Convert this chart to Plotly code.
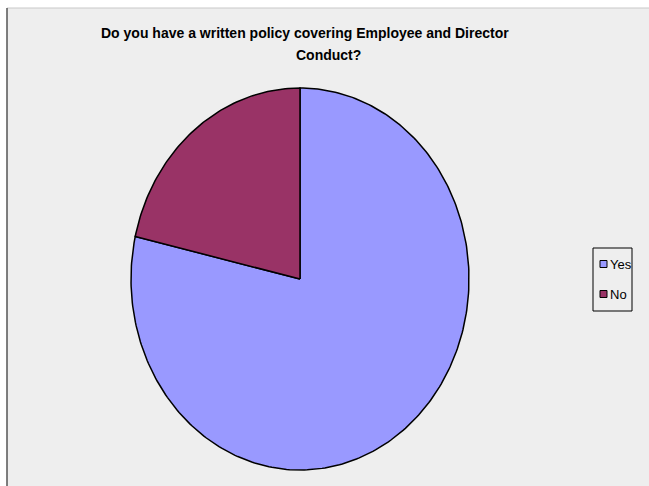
import math
import plotly.graph_objects as go

# ---- data ----
categories = ["Yes", "No"]
values = [11, 3]
colors = ["#9999FF", "#993366"]
title_lines = ["Do you have a written policy covering Employee and Director", "Conduct?"]

W, H = 649, 486
cx, cy, rx, ry = 300, 279, 169, 191

fig = go.Figure()

total = float(sum(values))
start = 0.0
for cat, val, col in zip(categories, values, colors):
    frac = val / total
    a0, a1 = start * 360, (start + frac) * 360
    n = max(2, int(abs(a1 - a0) / 1.0))
    xs, ys = [cx], [cy]
    for i in range(n + 1):
        a = math.radians(a0 + (a1 - a0) * i / n)
        xs.append(cx + rx * math.sin(a))
        ys.append(cy - ry * math.cos(a))
    xs.append(cx)
    ys.append(cy)
    fig.add_trace(go.Scatter(x=xs, y=ys, mode="lines", fill="toself", fillcolor=col,
                             line=dict(color="black", width=1.5), name=cat,
                             showlegend=False, hoverinfo="name"))
    start += frac

shapes = [
    dict(type="rect", xref="x", yref="y", x0=7, x1=W + 2, y0=8, y1=H + 2,
         fillcolor="#EEEEEE", line=dict(width=0), layer="below"),
    dict(type="line", xref="x", yref="y", x0=7, x1=W, y0=8, y1=8,
         line=dict(color="#C8C8C8", width=1), layer="below"),
    dict(type="line", xref="x", yref="y", x0=7, x1=7, y0=8, y1=H,
         line=dict(color="#555555", width=1.5), layer="below"),
    # legend box
    dict(type="rect", xref="x", yref="y", x0=593, x1=632, y0=248, y1=311,
         fillcolor="#EEEEEE", line=dict(color="#000000", width=1)),
]
annotations = []
leg_y = [264, 294]
for cat, col, ly in zip(categories, colors, leg_y):
    shapes.append(dict(type="rect", xref="x", yref="y", x0=600, x1=607, y0=ly - 3.5, y1=ly + 3.5,
                       fillcolor=col, line=dict(color="black", width=1)))
    annotations.append(dict(x=608, y=ly, xref="x", yref="y", text=cat, showarrow=False,
                            xanchor="left", yanchor="middle",
                            font=dict(family="Liberation Sans, Arial", size=13, color="black")))

annotations.append(dict(x=305, y=33, xref="x", yref="y", text="<b>" + title_lines[0] + "</b>",
                        showarrow=False, xanchor="center", yanchor="middle",
                        font=dict(family="Liberation Sans, Arial", size=14, color="black")))
annotations.append(dict(x=328, y=55, xref="x", yref="y", text="<b>" + title_lines[1] + "</b>",
                        showarrow=False, xanchor="center", yanchor="middle",
                        font=dict(family="Liberation Sans, Arial", size=14, color="black")))

fig.update_layout(
    width=W, height=H, margin=dict(l=0, r=0, t=0, b=0),
    paper_bgcolor="white", plot_bgcolor="rgba(0,0,0,0)",
    xaxis=dict(range=[0, W], visible=False, fixedrange=True, domain=[0, 1]),
    yaxis=dict(range=[H, 0], visible=False, fixedrange=True, domain=[0, 1]),
    shapes=shapes, annotations=annotations, showlegend=False,
)

fig.write_html("out.html")
